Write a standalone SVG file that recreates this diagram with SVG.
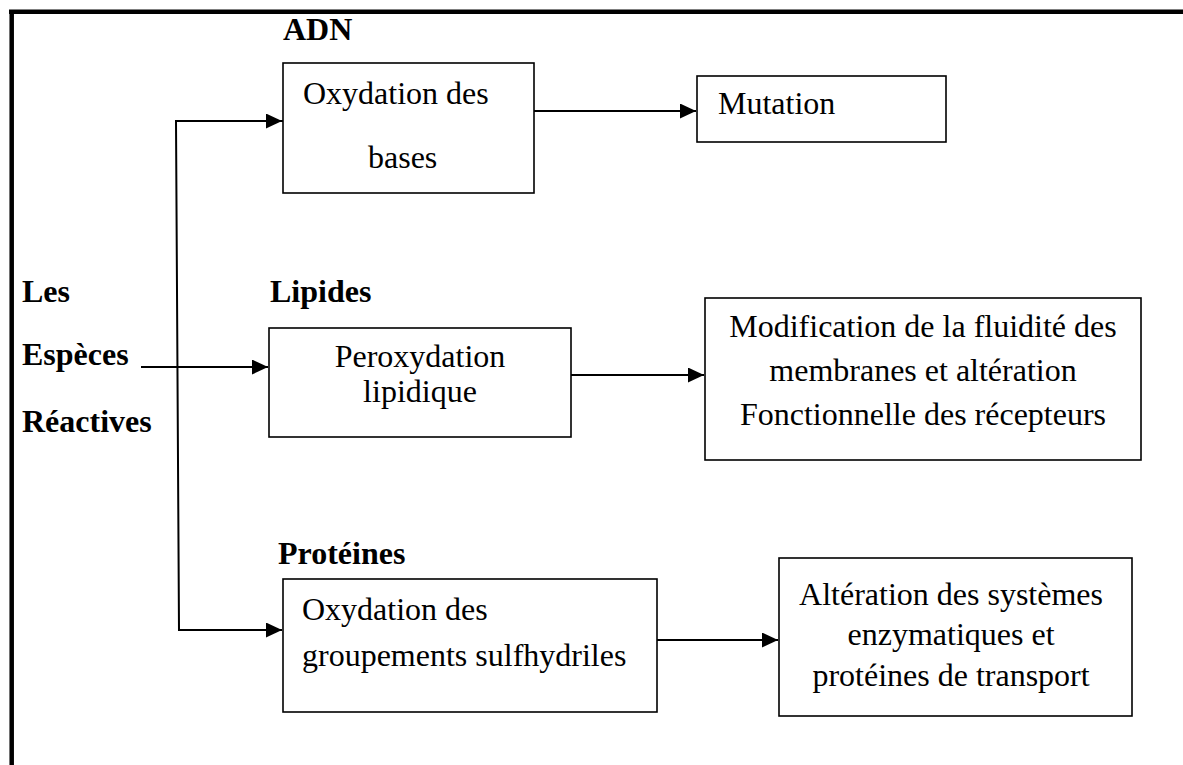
<svg xmlns="http://www.w3.org/2000/svg" width="1183" height="765" viewBox="0 0 1183 765">
<style>
.box{fill:#fff;stroke:#000;stroke-width:1.6}
.t{font-family:"Liberation Serif","Times New Roman",serif;font-size:32px;fill:#000}
.b{font-family:"Liberation Serif","Times New Roman",serif;font-size:32px;font-weight:bold;fill:#000}
.c{fill:none;stroke:#000;stroke-width:2}
.m{text-anchor:middle}
</style>
<defs>
<marker id="arr" markerUnits="userSpaceOnUse" markerWidth="16" markerHeight="15" refX="16" refY="7.5" orient="auto">
<path d="M0,0 L16,7.5 L0,15 Z" fill="#000"/>
</marker>
</defs>
<rect width="1183" height="765" fill="#fff"/>
<g id="frame">
<path d="M9,11.7 H1183 M11.7,9.5 V765" fill="none" stroke="#000" stroke-width="4.5"/>
</g>
<g id="connectors">
<path class="c" d="M283,121 H176 L179,630 H282" marker-end="url(#arr)"/>
<path class="c" d="M176,121 H282" marker-end="url(#arr)"/>
<path class="c" d="M141,367 H268" marker-end="url(#arr)"/>
<path class="c" d="M534,111 H696" marker-end="url(#arr)"/>
<path class="c" d="M571,375 H704" marker-end="url(#arr)"/>
<path class="c" d="M657,640 H778" marker-end="url(#arr)"/>
</g>
<g id="source">
<text class="b" x="22" y="302">Les</text>
<text class="b" x="22" y="365">Espèces</text>
<text class="b" x="22" y="432">Réactives</text>
</g>
<g id="label-adn"><text class="b" x="283" y="40">ADN</text></g>
<g id="label-lipides"><text class="b" x="270" y="302">Lipides</text></g>
<g id="label-proteines"><text class="b" x="278" y="564">Protéines</text></g>
<g id="node-adn">
<rect class="box" x="283" y="63" width="251" height="130"/>
<text class="t" x="303" y="104">Oxydation des</text>
<text class="t" x="368" y="168">bases</text>
</g>
<g id="node-mutation">
<rect class="box" x="697" y="76" width="249" height="66"/>
<text class="t" x="718" y="114">Mutation</text>
</g>
<g id="node-lipides">
<rect class="box" x="269" y="328" width="302" height="109"/>
<text class="t m" x="420" y="367">Peroxydation</text>
<text class="t m" x="420" y="402">lipidique</text>
</g>
<g id="node-membranes">
<rect class="box" x="705" y="298" width="436" height="162"/>
<text class="t m" x="923" y="337">Modification de la fluidité des</text>
<text class="t m" x="923" y="381">membranes et altération</text>
<text class="t m" x="923" y="425">Fonctionnelle des récepteurs</text>
</g>
<g id="node-proteines">
<rect class="box" x="283" y="579" width="374" height="133"/>
<text class="t" x="302" y="620">Oxydation des</text>
<text class="t" x="302" y="666">groupements sulfhydriles</text>
</g>
<g id="node-enzymes">
<rect class="box" x="779" y="558" width="353" height="158"/>
<text class="t m" x="951" y="605">Altération des systèmes</text>
<text class="t m" x="951" y="645">enzymatiques et</text>
<text class="t m" x="951" y="686">protéines de transport</text>
</g>
</svg>
